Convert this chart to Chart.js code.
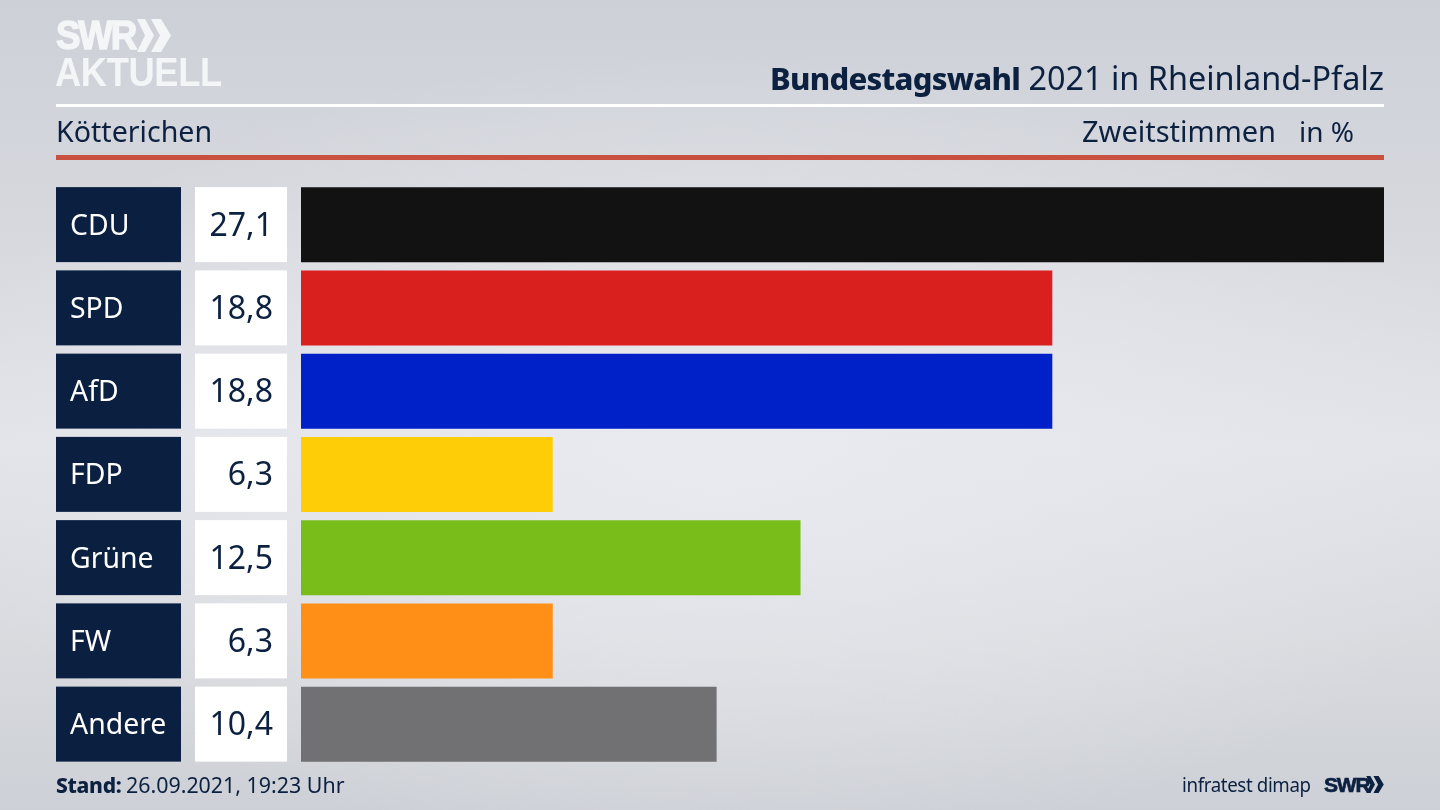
<!DOCTYPE html>
<html lang="de"><head><meta charset="utf-8"><title>Bundestagswahl 2021 Kötterichen</title>
<script src="https://cdn.jsdelivr.net/npm/chart.js@4"></script>
<style>
html,body{margin:0;padding:0;width:1440px;height:810px;overflow:hidden}
body{position:relative;font-family:"Noto Sans",sans-serif;color:#0c2040;
background:radial-gradient(ellipse 800px 400px at 50% 56%,rgba(234,235,240,.9) 0%,rgba(234,235,240,0) 100%),linear-gradient(180deg,#cdd1d7 0%,#d5d7dd 25%,#e3e4ea 55%,#d8dade 80%,#cdd0d6 100%)}
canvas{position:absolute;left:0;top:0}
.t{position:absolute;white-space:nowrap;line-height:1}
.rule{position:absolute;left:56px;width:1328px}
</style></head><body>
<canvas id="c" width="1440" height="810" style="width:1440px;height:810px"></canvas>
<div class="t" style="left:56px;top:13px;font:700 40px/44px 'Liberation Sans',sans-serif;color:#f3f5f7;letter-spacing:-2.4px;-webkit-text-stroke:1.4px #f3f5f7;transform-origin:left top;transform:scaleX(.92)">SWR</div>
<svg style="position:absolute;left:137px;top:19px" width="34" height="33" viewBox="0 0 34 33"><path fill="#f3f5f7" d="M0 0h8l9 16.500-9 16.500H0l8-16.500zM14 0h10l10 16.500-10 16.500H14l9-16.500z"/></svg>
<div class="t" style="left:55px;top:50px;font:700 41px/44px 'Liberation Sans',sans-serif;color:#f3f5f7;letter-spacing:-.4px;transform-origin:left top;transform:scaleX(.885)">AKTUELL</div>
<div class="t" style="right:56px;top:57px;font-size:32.4px;line-height:40px"><b style="font-size:31px;font-weight:800;letter-spacing:-.75px">Bundestagswahl</b> 2021 in Rheinland-Pfalz</div>
<div class="rule" style="top:104px;height:3px;background:#fff"></div>
<div class="t" style="left:56px;top:112px;font-size:28.6px;line-height:38px">Kötterichen</div>
<div class="t" style="left:1082px;top:112px;font-size:29px;line-height:38px">Zweitstimmen</div>
<div class="t" style="left:1299px;top:112px;font-size:28px;line-height:38px">in %</div>
<div class="rule" style="top:155px;height:5px;background:#c9503f"></div>
<div class="t" style="left:56px;top:771px;font-size:21.4px;line-height:28px"><b style="font-size:21px;font-weight:800;letter-spacing:-.3px">Stand:</b> <span style="margin-left:-1px">26.09.2021, 19:23 Uhr</span></div>
<div class="t" style="left:1182px;top:771px;font-size:20px;line-height:28px;letter-spacing:-.4px;transform-origin:left top;transform:scaleX(.935)">infratest dimap</div>
<div class="t" style="left:1324px;top:772px;font:700 21px/26px 'Liberation Sans',sans-serif;letter-spacing:-1.2px;-webkit-text-stroke:.7px #0c2040">SWR</div>
<svg style="position:absolute;left:1366px;top:776px" width="18" height="17" viewBox="0 0 34 33"><path fill="#0c2040" d="M0 0h8l9 16.500-9 16.500H0l8-16.500zM14 0h10l10 16.500-10 16.500H14l9-16.500z"/></svg>
<script>
const parties=["CDU","SPD","AfD","FDP","Grüne","FW","Andere"];
const shares=[27.1,18.8,18.8,6.3,12.5,6.3,10.4];
const barColors=["#121212","#da1f1f","#0021c8","#ffcd08","#79bd1a","#ff8f17","#717173"];
const boxes={id:"boxes",beforeDraw(chart){
  const {ctx,scales:{y}}=chart,h=75;
  ctx.save();
  parties.forEach((p,i)=>{
    const cy=y.getPixelForValue(i),top=cy-h/2;
    ctx.fillStyle="#0b2040";ctx.fillRect(56,top,125,h);
    ctx.fillStyle="#ffffff";ctx.fillRect(195,top,92,h);
    ctx.fillStyle="#0c2040";ctx.font='32px "Noto Sans"';ctx.textAlign="right";ctx.textBaseline="middle";
    ctx.fillText(shares[i].toFixed(1).replace(".",","),273,cy+2);
  });
  ctx.restore();
}};
new Chart(document.getElementById("c"),{
  type:"bar",
  data:{labels:parties,datasets:[{data:shares,backgroundColor:barColors,barPercentage:75/83.25,categoryPercentage:1,borderWidth:0}]},
  options:{indexAxis:"y",responsive:false,animation:false,devicePixelRatio:1,
    layout:{padding:{left:70,right:56,top:183,bottom:44.25}},
    plugins:{legend:{display:false},tooltip:{enabled:false},title:{display:false}},
    scales:{
      x:{min:0,max:27.1,display:false,grid:{display:false}},
      y:{grid:{display:false},border:{display:false},
        afterFit(s){s.width=231},
        ticks:{crossAlign:"far",padding:0,labelOffset:2,color:"#ffffff",font:{family:'"Noto Sans"',size:28.4}}}
    }},
  plugins:[boxes]
});
</script>
</body></html>
